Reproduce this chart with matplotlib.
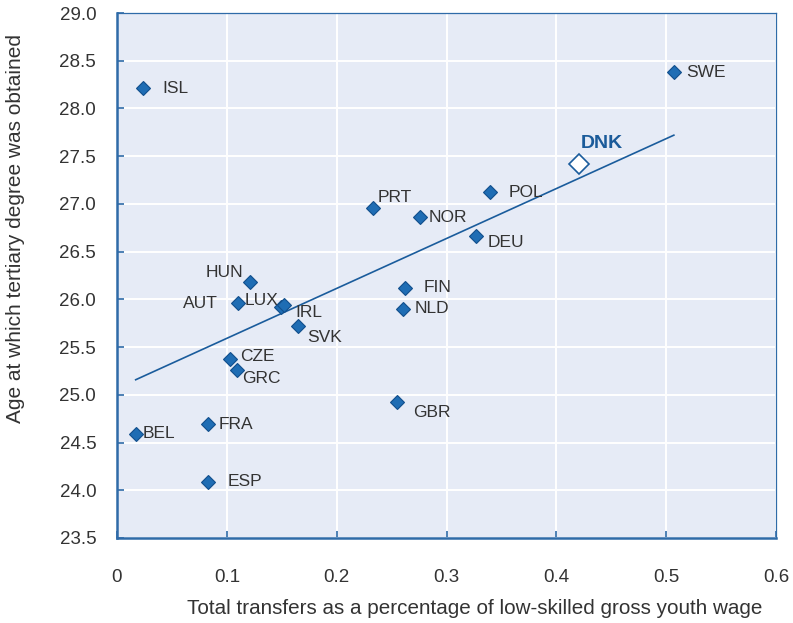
import numpy as np
import matplotlib
matplotlib.use("Agg")
import matplotlib.pyplot as plt

plt.rcParams['font.family'] = ['Liberation Sans', 'DejaVu Sans']

# Country codes and values
countries = ["ISL", "SWE", "POL", "PRT", "NOR", "DEU", "HUN", "AUT", "LUX", "IRL",
             "SVK", "CZE", "GRC", "FIN", "NLD", "GBR", "BEL", "FRA", "ESP"]
transfers = [0.024, 0.507, 0.340, 0.233, 0.276, 0.327, 0.121, 0.110, 0.149, 0.152,
             0.165, 0.103, 0.109, 0.262, 0.260, 0.255, 0.017, 0.083, 0.083]
age_degree = [28.21, 28.38, 27.12, 26.96, 26.86, 26.66, 26.18, 25.96, 25.92, 25.94,
              25.72, 25.37, 25.26, 26.12, 25.90, 24.93, 24.59, 24.69, 24.09]

# Highlighted country
dnk_x = 0.421
dnk_y = 27.42

# Label offsets in pixels (dx, dy, horizontal alignment)
label_pos = {
    "ISL": (19, 0, "left"), "SWE": (12, 0, "left"), "POL": (18, 0, "left"),
    "PRT": (5, 10, "left"), "NOR": (8, 0, "left"), "DEU": (11, -6, "left"),
    "HUN": (-7, 10, "right"), "AUT": (-20, 0, "right"), "LUX": (-2, 6, "right"),
    "IRL": (11, -7, "left"), "SVK": (9, -11, "left"), "CZE": (10, 3, "left"),
    "GRC": (5, -9, "left"), "FIN": (19, 0, "left"), "NLD": (12, 0, "left"),
    "GBR": (16, -11, "left"), "BEL": (7, 0, "left"), "FRA": (10, 0, "left"),
    "ESP": (19, 0, "left"),
}

fig = plt.figure(figsize=(7.93, 6.23), dpi=100)
ax = fig.add_axes([117/793, 1 - 538/623, (776-117)/793, (538-13)/623])

bg = "#e6ebf6"
blue = "#1f6db4"
edge = "#124f8c"
spine_c = "#2f6ba8"
text_c = "#333333"

ax.set_facecolor(bg)
ax.set_xlim(0, 0.6)
ax.set_ylim(23.5, 29.0)
ax.set_xticks(np.arange(0, 0.61, 0.1))
ax.set_yticks(np.arange(23.5, 29.01, 0.5))
ax.set_xticklabels(["0", "0.1", "0.2", "0.3", "0.4", "0.5", "0.6"])
ax.set_yticklabels([f"{v:.1f}" for v in np.arange(23.5, 29.01, 0.5)])
ax.grid(True, color="white", linewidth=1.4)
ax.set_axisbelow(True)

for s in ["left", "bottom"]:
    ax.spines[s].set_color(spine_c)
    ax.spines[s].set_linewidth(1.8)
for s in ["top", "right"]:
    ax.spines[s].set_color(spine_c)
    ax.spines[s].set_linewidth(0.9)

ax.tick_params(axis="both", direction="in", length=5, width=1.2, color=spine_c,
               labelsize=13.5, labelcolor=text_c)
ax.tick_params(axis="y", pad=15)
ax.tick_params(axis="x", pad=22)

# Linear trend across all countries
all_x = np.array(transfers + [dnk_x])
all_y = np.array(age_degree + [dnk_y])
slope, intercept = np.polyfit(all_x, all_y, 1)
xs = np.array([all_x.min(), all_x.max()])
ax.plot(xs, intercept + slope * xs, color="#1a5c9c", linewidth=1.2, zorder=2)

ax.plot(transfers, age_degree, linestyle="none", marker="D", markersize=7.3,
        markerfacecolor=blue, markeredgecolor=edge, markeredgewidth=0.8, zorder=3)
ax.plot([dnk_x], [dnk_y], linestyle="none", marker="D", markersize=10.5,
        markerfacecolor="white", markeredgecolor="#1a5c9c", markeredgewidth=1.2, zorder=4)

for c, x, y in zip(countries, transfers, age_degree):
    dx, dy, ha = label_pos[c]
    ax.annotate(c, (x, y), xytext=(dx, dy), textcoords="offset pixels",
                ha=ha, va="center", fontsize=12.5, color=text_c, zorder=5)
ax.annotate("DNK", (dnk_x, dnk_y), xytext=(1, 20), textcoords="offset pixels",
            ha="left", va="center", fontsize=14, fontweight="bold", color="#1b5b9a", zorder=5)

ax.set_xlabel("Total transfers as a percentage of low-skilled gross youth wage",
              fontsize=14.9, color=text_c)
ax.xaxis.set_label_coords(0.543, -0.116)
ax.set_ylabel("Age at which tertiary degree was obtained", fontsize=15, color=text_c)
ax.yaxis.set_label_coords(-0.14, 0.5895)

fig.savefig("out.png", dpi=100)
